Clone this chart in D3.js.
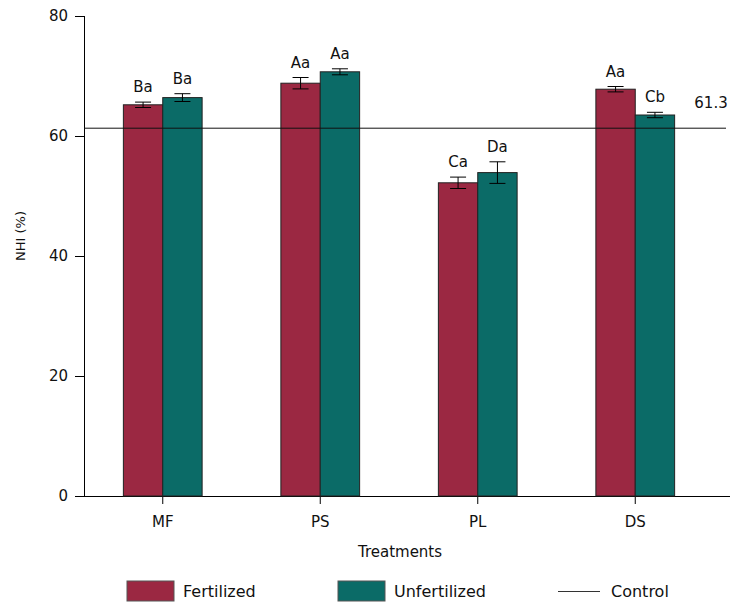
<!DOCTYPE html>
<html>
<head>
<meta charset="utf-8">
<script src="https://cdn.jsdelivr.net/npm/d3@7"></script>
<style>
  body { margin: 0; background: #fff; }
  svg text { font-family: 'DejaVu Sans', sans-serif; fill: #111; }
</style>
</head>
<body>
<svg id="chart" width="733" height="604"></svg>
<script>
// data
const treatments = ['MF', 'PS', 'PL', 'DS']
const series = ['Fertilized', 'Unfertilized']
const fertilized = [65.2, 68.8, 52.2, 67.8]
const unfertilized = [66.4, 70.7, 53.9, 63.5]
const fertilizedErr = [0.45, 0.95, 0.95, 0.45]
const unfertilizedErr = [0.65, 0.5, 1.8, 0.45]
const fertilizedLabels = ['Ba', 'Aa', 'Ca', 'Aa']
const unfertilizedLabels = ['Ba', 'Aa', 'Da', 'Cb']
const control = 61.3
const yTicks = [0, 20, 40, 60, 80]
const colors = ['#9b2842', '#0b6b67']

const svg = d3.select('#chart')
const mLeft = 84
const mRight = 714
const mTop = 16
const mBottom = 496

const x = d3.scaleBand().domain(treatments).range([mLeft, mRight])
const x1 = d3.scaleBand().domain(series).range([0, x.bandwidth()]).paddingOuter(1)
const y = d3.scaleLinear().domain([0, 80]).range([mBottom, mTop])

// axes
svg.append('g')
  .attr('transform', 'translate(' + mLeft + ',0)')
  .call(d3.axisLeft(y).tickValues(yTicks).tickSize(9).tickPadding(7))
  .call(g => g.select('.domain').attr('d', 'M0.5,' + mTop + 'V' + mBottom))
  .call(g => g.selectAll('text').style('font-size', '15px'))

svg.append('g')
  .attr('transform', 'translate(0,' + mBottom + ')')
  .call(d3.axisBottom(x).tickSize(8).tickPadding(12))
  .call(g => g.select('.domain').attr('d', 'M' + mLeft + ',0.5H730'))
  .call(g => g.selectAll('text').style('font-size', '15px'))

const rows = treatments.map((t, i) => [
  { t, s: series[0], v: fertilized[i], e: fertilizedErr[i], lab: fertilizedLabels[i], c: colors[0] },
  { t, s: series[1], v: unfertilized[i], e: unfertilizedErr[i], lab: unfertilizedLabels[i], c: colors[1] }
]).flat()

const groups = svg.append('g').selectAll('g')
  .data(rows)
  .enter().append('g')
  .attr('transform', function (d) { return 'translate(' + (x(d.t) + x1(d.s)) + ',0)' })

groups.append('rect')
  .attr('x', 0)
  .attr('y', function (d) { return y(d.v) })
  .attr('width', x1.bandwidth())
  .attr('height', function (d) { return y(0) - y(d.v) })
  .attr('fill', function (d) { return d.c })
  .attr('stroke', '#222')
  .attr('stroke-width', 1)

// control line
svg.append('line')
  .attr('x1', mLeft).attr('x2', 726)
  .attr('y1', y(control)).attr('y2', y(control))
  .attr('stroke', '#111').attr('stroke-width', 1)

const bw = x1.bandwidth()
const cap = 8
groups.append('path')
  .attr('d', function (d) {
    const c = bw / 2
    const a = y(d.v + d.e)
    const b = y(d.v - d.e)
    return 'M' + c + ',' + a + 'V' + b +
      'M' + (c - cap) + ',' + a + 'H' + (c + cap) +
      'M' + (c - cap) + ',' + b + 'H' + (c + cap)
  })
  .attr('stroke', '#000')
  .attr('fill', 'none')

groups.append('text')
  .attr('x', bw / 2)
  .attr('y', function (d) { return y(d.v + d.e) - 10 })
  .attr('text-anchor', 'middle')
  .style('font-size', '15px')
  .text(function (d) { return d.lab })

svg.append('text')
  .attr('x', 711).attr('y', y(control) - 20)
  .attr('text-anchor', 'middle')
  .style('font-size', '15px')
  .text(control)

// axis titles
svg.append('text')
  .attr('transform', 'translate(25,236) rotate(-90)')
  .attr('text-anchor', 'middle')
  .style('font-size', '13px')
  .text('NHI (%)')

svg.append('text')
  .attr('x', 400).attr('y', 557)
  .attr('text-anchor', 'middle')
  .style('font-size', '15px')
  .text('Treatments')

// legend
const legend = svg.append('g').attr('transform', 'translate(0,591)')
const items = [
  { label: 'Fertilized', x: 127, c: colors[0] },
  { label: 'Unfertilized', x: 338, c: colors[1] }
]
items.forEach(function (it) {
  legend.append('rect')
    .attr('x', it.x).attr('y', -10)
    .attr('width', 47).attr('height', 20)
    .attr('fill', it.c).attr('stroke', '#555')
  legend.append('text')
    .attr('x', it.x + 56).attr('y', 6)
    .style('font-size', '16px')
    .text(it.label)
})
legend.append('line')
  .attr('x1', 558).attr('x2', 600)
  .attr('y1', 0.5).attr('y2', 0.5)
  .attr('stroke', '#333')
legend.append('text')
  .attr('x', 611).attr('y', 6)
  .style('font-size', '16px')
  .text('Control')
</script>
</body>
</html>
